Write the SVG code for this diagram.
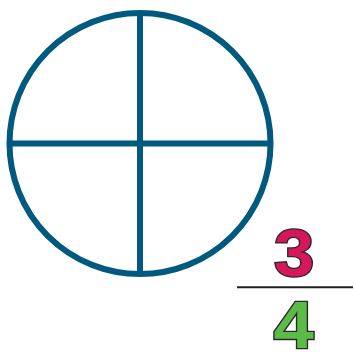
<svg xmlns="http://www.w3.org/2000/svg" width="354" height="352" viewBox="0 0 354 352">
<style>
.shape{fill:none;stroke:#00597f;stroke-width:6}
.num{font-family:"Liberation Sans",Arial,sans-serif;font-weight:bold;font-size:67px;text-anchor:middle;stroke:#2b2b2b;stroke-width:2.6;paint-order:stroke}
</style>
<rect width="354" height="352" fill="#ffffff"/>
<g id="circle">
<circle class="shape" cx="140" cy="143.5" r="130.5"/>
</g>
<g id="connectors">
<line class="shape" x1="9.5" y1="143.5" x2="270.5" y2="143.5"/>
<line class="shape" x1="140" y1="13" x2="140" y2="274"/>
</g>
<g id="fraction">
<text class="num" transform="translate(294 276) scale(1.08 1)" fill="#d6175c">3</text>
<line x1="237" y1="287.3" x2="353" y2="287.3" stroke="#231f20" stroke-width="2"/>
<text class="num" transform="translate(293.5 347.5) scale(1.08 1)" fill="#5bbb47">4</text>
</g>
</svg>
